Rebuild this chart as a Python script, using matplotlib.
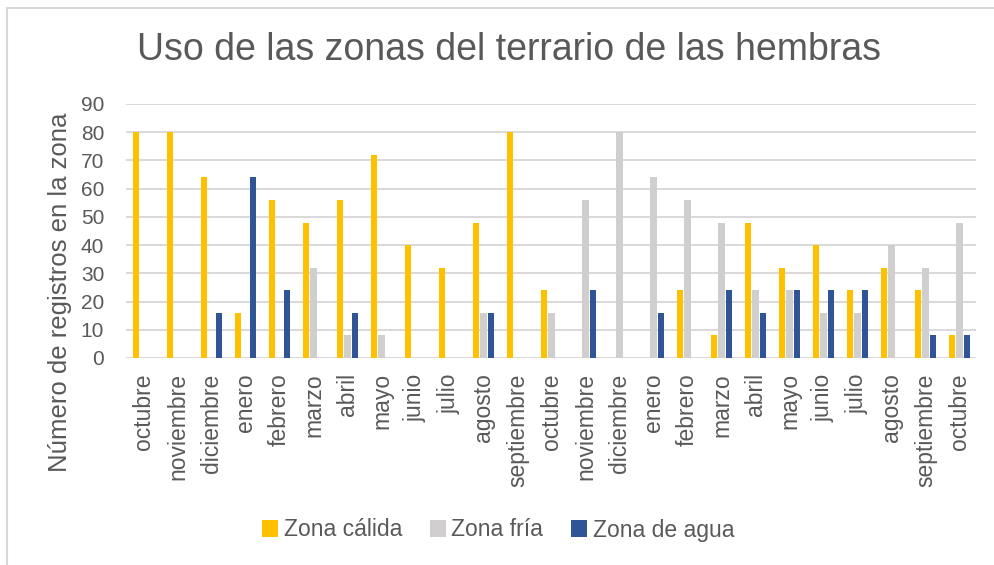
import numpy as np
import matplotlib
matplotlib.use('Agg')
import matplotlib.pyplot as plt
from matplotlib.patches import Rectangle

plt.rcParams['font.family'] = ['Liberation Sans', 'DejaVu Sans']

meses = ["octubre", "noviembre", "diciembre", "enero", "febrero", "marzo", "abril",
         "mayo", "junio", "julio", "agosto", "septiembre", "octubre", "noviembre",
         "diciembre", "enero", "febrero", "marzo", "abril", "mayo", "junio", "julio",
         "agosto", "septiembre", "octubre"]
zona_calida = [80, 80, 64, 16, 56, 48, 56, 72, 40, 32, 48, 80, 24, 0,
               0, 0, 24, 8, 48, 32, 40, 24, 32, 24, 8]
zona_fria = [0, 0, 0, 0, 0, 32, 8, 8, 0, 0, 16, 0, 16, 56,
             80, 64, 56, 48, 24, 24, 16, 16, 40, 32, 48]
zona_agua = [0, 0, 16, 64, 24, 0, 16, 0, 0, 0, 16, 0, 0, 24,
             0, 16, 0, 24, 16, 24, 24, 24, 0, 8, 8]

TXT = "#595959"
series = [("Zona cálida", zona_calida, "#FFC000"),
          ("Zona fría", zona_fria, "#D0CECE"),
          ("Zona de agua", zona_agua, "#2F5597")]

fig = plt.figure(figsize=(9.95, 5.65), dpi=100)
ax = fig.add_axes([0.1271, 0.3664, 0.8543, 0.4496])

x = np.arange(len(meses))
for i, (name, vals, col) in enumerate(series):
    ax.bar(x + (i - 1) * 0.22, vals, width=0.18, color=col, label=name, zorder=3)

ax.set_xlim(-0.5, len(meses) - 0.5)
ax.set_ylim(0, 90)
ax.set_yticks(range(0, 91, 10))
ax.yaxis.grid(True, color="#D9D9D9", linewidth=1.4, zorder=0)
ax.set_axisbelow(True)
for s in ax.spines.values():
    s.set_visible(False)
ax.tick_params(axis="both", length=0, colors=TXT)
ax.tick_params(axis="y", labelsize=15, pad=16)
ax.tick_params(axis="x", labelsize=16.5, pad=11)
ax.set_xticks(x)
ax.set_xticklabels(meses, rotation=90, va="top", ha="center")

fig.text(509 / 995, 1 - 50 / 565, "Uso de las zonas del terrario de las hembras",
         ha="center", va="center", fontsize=27, color=TXT)
fig.text(60 / 995, 0.483, "Número de registros en la zona", rotation=90,
         ha="center", va="center", fontsize=18.5, color=TXT)

leg = fig.legend(loc="center", bbox_to_anchor=(498 / 995, 1 - 530 / 565), ncol=3,
                 frameon=False, fontsize=16.5, handlelength=0.7, handleheight=0.7,
                 handletextpad=0.25, columnspacing=1.2)
for t in leg.get_texts():
    t.set_color(TXT)

fig.patches.append(Rectangle((7.5 / 995, -0.1), 1.2, 1 - 7.5 / 565 + 0.1,
                             transform=fig.transFigure, fill=False,
                             edgecolor="#D9D9D9", linewidth=1.5))

fig.savefig("out.png", dpi=100)
